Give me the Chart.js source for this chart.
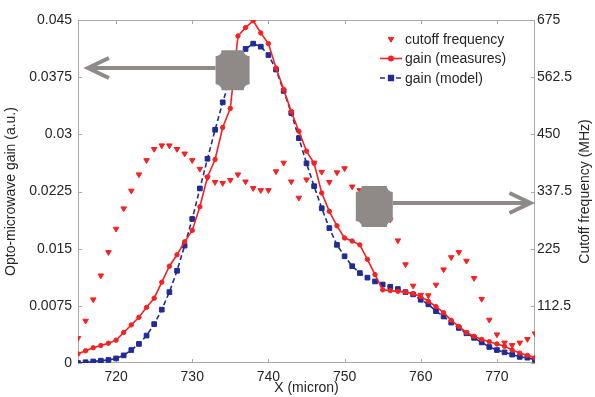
<!DOCTYPE html>
<html>
<head>
<meta charset="utf-8">
<script src="https://cdn.jsdelivr.net/npm/chart.js@4.4.1/dist/chart.umd.min.js"></script>
<style>
  html, body { margin: 0; padding: 0; background: #fff; }
  #wrap { width: 595px; height: 397px; }
</style>
</head>
<body>
<div id="wrap"><canvas id="gainChart" width="595" height="397"></canvas></div>
<script>
// position along the device (micron)
var positions = [715, 716, 717, 718, 719, 720, 721, 722, 723, 724,
    725, 726, 727, 728, 729, 730, 731, 732, 733, 734,
    735, 736, 737, 738, 739, 740, 741, 742, 743, 744,
    745, 746, 747, 748, 749, 750, 751, 752, 753, 754,
    755, 756, 757, 758, 759, 760, 761, 762, 763, 764,
    765, 766, 767, 768, 769, 770, 771, 772, 773, 774, 775];

var gainMeasured = [0.0012, 0.0016, 0.0020, 0.0023, 0.0026, 0.0030, 0.0040, 0.0050, 0.0060, 0.0073,
    0.0085, 0.0106, 0.0127, 0.0142, 0.0159, 0.0174, 0.0205, 0.0244, 0.0267, 0.0309,
    0.0334, 0.0429, 0.0440, 0.0449, 0.0433, 0.0419, 0.0387, 0.0359, 0.0330, 0.0304,
    0.0278, 0.0262, 0.0223, 0.0199, 0.0180, 0.0164, 0.0160, 0.0155, 0.0136, 0.0116,
    0.0096, 0.0095, 0.0094, 0.0093, 0.0091, 0.0087, 0.0081, 0.0074, 0.0066, 0.0056,
    0.0048, 0.0040, 0.0035, 0.0031, 0.0028, 0.0025, 0.0022, 0.0017, 0.0013, 0.0010, 0.0007];

var gainModel = [0.0000, 0.0001, 0.0002, 0.0003, 0.0004, 0.0006, 0.0010, 0.0017, 0.0025, 0.0036,
    0.0051, 0.0070, 0.0093, 0.0121, 0.0154, 0.0189, 0.0229, 0.0268, 0.0306, 0.0342,
    0.0374, 0.0398, 0.0412, 0.0419, 0.0415, 0.0404, 0.0385, 0.0357, 0.0328, 0.0295,
    0.0262, 0.0232, 0.0203, 0.0177, 0.0155, 0.0140, 0.0127, 0.0118, 0.0112, 0.0107,
    0.0103, 0.0100, 0.0097, 0.0093, 0.0090, 0.0083, 0.0077, 0.0068, 0.0061, 0.0053,
    0.0046, 0.0039, 0.0033, 0.0027, 0.0021, 0.0017, 0.0014, 0.0011, 0.0008, 0.0007, 0.0004];

var cutoffFreq = [49, 83, 125, 172, 218, 264, 304, 339, 371, 399,
    421, 428, 428, 421, 412, 399, 382, 365, 356, 354,
    360, 371, 357, 344, 340, 340, 377, 394, 357, 325,
    361, 394, 376, 356, 375, 383, 347, 340, 330, 315,
    300, 282, 241, 194, 152, 134, 133, 154, 184, 208,
    218, 201, 167, 126, 85, 56, 40, 35, 40, 47, 58];

var seriesNames = ["cutoff frequency", "gain (measures)", "gain (model)"];
var xTicks = [720, 730, 740, 750, 760, 770];
var gainTicks = [0, 0.0075, 0.015, 0.0225, 0.03, 0.0375, 0.045];
var gainTickLabels = ["0", "0.0075", "0.015", "0.0225", "0.03", "0.0375", "0.045"];
var freqTicks = [0, 112.5, 225, 337.5, 450, 562.5, 675];
var freqTickLabels = ["", "112.5", "225", "337.5", "450", "562.5", "675"];

var RED = "#f52222";
var BLUE = "#1f2b96";
var GREY = "#8f8a87";
var TEXT = "#262626";
var FONT = "'Liberation Sans', Arial, sans-serif";

function toPoints(ys) {
    return positions.map(function (x, i) { return { x: x, y: ys[i] }; });
}

// the two grey "sample" blocks with arrows, in data units
var blocks = [
    { x: 735.3, y: 0.0384, axis: "y", w: 34, h: 40, tipX: 716.3, tipY: 0.0387 },
    { x: 753.9, y: 308, axis: "y2", w: 37, h: 41, tipX: 774.4, tipY: 315 }
];

function notchBox(ctx, cx, cy, w, h, r) {
    var x0 = cx - w / 2, x1 = cx + w / 2, y0 = cy - h / 2, y1 = cy + h / 2;
    ctx.beginPath();
    ctx.moveTo(x0 + r, y0);
    ctx.lineTo(x1 - r, y0);
    ctx.arc(x1, y0, r, Math.PI, Math.PI / 2, true);
    ctx.lineTo(x1, y1 - r);
    ctx.arc(x1, y1, r, -Math.PI / 2, -Math.PI, true);
    ctx.lineTo(x0 + r, y1);
    ctx.arc(x0, y1, r, 0, -Math.PI / 2, true);
    ctx.lineTo(x0, y0 + r);
    ctx.arc(x0, y0, r, Math.PI / 2, 0, true);
    ctx.closePath();
    ctx.fill();
}

var framePlugin = {
    id: "matlabFrame",
    beforeDatasetsDraw: function (chart) {
        var ctx = chart.ctx, a = chart.chartArea;
        var sx = chart.scales.x, sy = chart.scales.y, sy2 = chart.scales.y2;
        ctx.save();
        ctx.strokeStyle = "#a9a9a9";
        ctx.lineWidth = 1;
        ctx.strokeRect(a.left + 0.5, a.top + 0.5, a.right - a.left - 1, a.bottom - a.top - 1);
        ctx.beginPath();
        xTicks.forEach(function (v) {
            var px = Math.round(sx.getPixelForValue(v)) + 0.5;
            ctx.moveTo(px, a.bottom); ctx.lineTo(px, a.bottom - 4);
            ctx.moveTo(px, a.top); ctx.lineTo(px, a.top + 4);
        });
        gainTicks.forEach(function (v) {
            var py = Math.round(sy.getPixelForValue(v)) + 0.5;
            ctx.moveTo(a.left, py); ctx.lineTo(a.left + 4, py);
        });
        freqTicks.forEach(function (v) {
            var py = Math.round(sy2.getPixelForValue(v)) + 0.5;
            ctx.moveTo(a.right, py); ctx.lineTo(a.right - 4, py);
        });
        ctx.stroke();
        ctx.restore();
    },
    afterDatasetsDraw: function (chart) {
        var ctx = chart.ctx, sx = chart.scales.x;
        ctx.save();
        blocks.forEach(function (b) {
            var sc = chart.scales[b.axis];
            var cx = sx.getPixelForValue(b.x), cy = sc.getPixelForValue(b.y);
            var tx = sx.getPixelForValue(b.tipX), ty = sc.getPixelForValue(b.tipY);
            var dir = tx < cx ? -1 : 1;
            ctx.strokeStyle = GREY;
            ctx.lineWidth = 4;
            ctx.lineCap = "butt";
            ctx.beginPath();
            ctx.moveTo(cx + dir * b.w / 2, ty);
            ctx.lineTo(tx - dir * 2, ty);
            ctx.stroke();
            ctx.beginPath();
            ctx.moveTo(tx - dir * 21, ty - 10);
            ctx.lineTo(tx, ty);
            ctx.lineTo(tx - dir * 21, ty + 10);
            ctx.lineJoin = "miter";
            ctx.stroke();
            ctx.fillStyle = GREY;
            notchBox(ctx, cx, cy, b.w, b.h, 6);
        });
        ctx.restore();
    },
    afterDraw: function (chart) {
        var ctx = chart.ctx, a = chart.chartArea;
        ctx.save();
        // legend
        var lx = a.right - 155, tx = a.right - 130;
        var rows = [a.top + 19, a.top + 38.5, a.top + 58];
        chart.data.datasets.forEach(function (ds, i) {
            var y = rows[i];
            ctx.strokeStyle = ds.borderColor;
            ctx.fillStyle = ds.pointBackgroundColor;
            if (ds.showLine !== false) {
                ctx.lineWidth = ds.borderWidth;
                ctx.setLineDash(ds.borderDash || []);
                ctx.beginPath();
                ctx.moveTo(lx, y); ctx.lineTo(lx + 22, y);
                ctx.stroke();
                ctx.setLineDash([]);
            }
            Chart.helpers.drawPoint(ctx, {
                pointStyle: ds.pointStyle, radius: ds.pointRadius,
                rotation: ds.pointRotation || 0, borderWidth: 1
            }, lx + 11, y);
            ctx.fillStyle = TEXT;
            ctx.font = "14px " + FONT;
            ctx.textAlign = "left";
            ctx.textBaseline = "middle";
            ctx.fillText(seriesNames[i], tx, y + 1);
        });
        // right axis title, reading upwards like the left one
        ctx.translate(585, (a.top + a.bottom) / 2);
        ctx.rotate(-Math.PI / 2);
        ctx.textAlign = "center";
        ctx.textBaseline = "middle";
        ctx.fillStyle = TEXT;
        ctx.font = "14px " + FONT;
        ctx.fillText("Cutoff frequency (MHz)", 0, 0);
        ctx.restore();
    }
};

new Chart(document.getElementById("gainChart"), {
    type: "line",
    data: {
        datasets: [{
            label: seriesNames[0],
            data: toPoints(cutoffFreq),
            yAxisID: "y2",
            showLine: false,
            pointStyle: "triangle",
            pointRotation: 180,
            pointRadius: 3.2,
            pointBorderWidth: 1,
            pointBackgroundColor: RED,
            pointBorderColor: RED,
            borderColor: RED,
            backgroundColor: RED
        }, {
            label: seriesNames[1],
            data: toPoints(gainMeasured),
            yAxisID: "y",
            borderColor: RED,
            backgroundColor: RED,
            borderWidth: 1.6,
            pointStyle: "circle",
            pointRadius: 2.2,
            pointBorderWidth: 1,
            pointBackgroundColor: RED,
            pointBorderColor: RED,
            tension: 0
        }, {
            label: seriesNames[2],
            data: toPoints(gainModel),
            yAxisID: "y",
            borderColor: BLUE,
            backgroundColor: BLUE,
            borderWidth: 1.6,
            borderDash: [5, 3],
            pointStyle: "rect",
            pointRadius: 3.3,
            pointBorderWidth: 1,
            pointBackgroundColor: BLUE,
            pointBorderColor: BLUE,
            tension: 0
        }]
    },
    options: {
        responsive: false,
        animation: false,
        layout: { padding: { top: 20, left: 0, right: 0, bottom: 0 } },
        plugins: { legend: { display: false }, tooltip: { enabled: false } },
        scales: {
            x: {
                type: "linear",
                min: 715,
                max: 775,
                grid: { display: false, drawTicks: false },
                border: { display: false },
                afterBuildTicks: function (scale) {
                    scale.ticks = xTicks.map(function (v) { return { value: v }; });
                },
                afterFit: function (scale) { scale.height = 34; },
                ticks: {
                    padding: 6,
                    color: TEXT,
                    font: { size: 14, family: FONT },
                    callback: function (v) { return String(v); }
                },
                title: {
                    display: true,
                    text: "X (micron)",
                    color: TEXT,
                    font: { size: 14, family: FONT },
                    padding: { top: 0, bottom: 0 }
                }
            },
            y: {
                position: "left",
                min: 0,
                max: 0.045,
                grid: { display: false, drawTicks: false },
                border: { display: false },
                afterBuildTicks: function (scale) {
                    scale.ticks = gainTicks.map(function (v) { return { value: v }; });
                },
                afterFit: function (scale) { scale.width = 78; },
                ticks: {
                    padding: 6,
                    color: TEXT,
                    font: { size: 14, family: FONT },
                    callback: function (v, i) { return gainTickLabels[i]; }
                },
                title: {
                    display: true,
                    text: "Opto-microwave gain (a.u.)",
                    color: TEXT,
                    font: { size: 14, family: FONT },
                    padding: { top: 3, bottom: 0 }
                }
            },
            y2: {
                position: "right",
                min: 0,
                max: 675,
                grid: { display: false, drawTicks: false },
                border: { display: false },
                afterBuildTicks: function (scale) {
                    scale.ticks = freqTicks.map(function (v) { return { value: v }; });
                },
                afterFit: function (scale) { scale.width = 60; },
                ticks: {
                    padding: 2,
                    color: TEXT,
                    font: { size: 14, family: FONT },
                    callback: function (v, i) { return freqTickLabels[i]; }
                }
            }
        }
    },
    plugins: [framePlugin]
});
</script>
</body>
</html>
